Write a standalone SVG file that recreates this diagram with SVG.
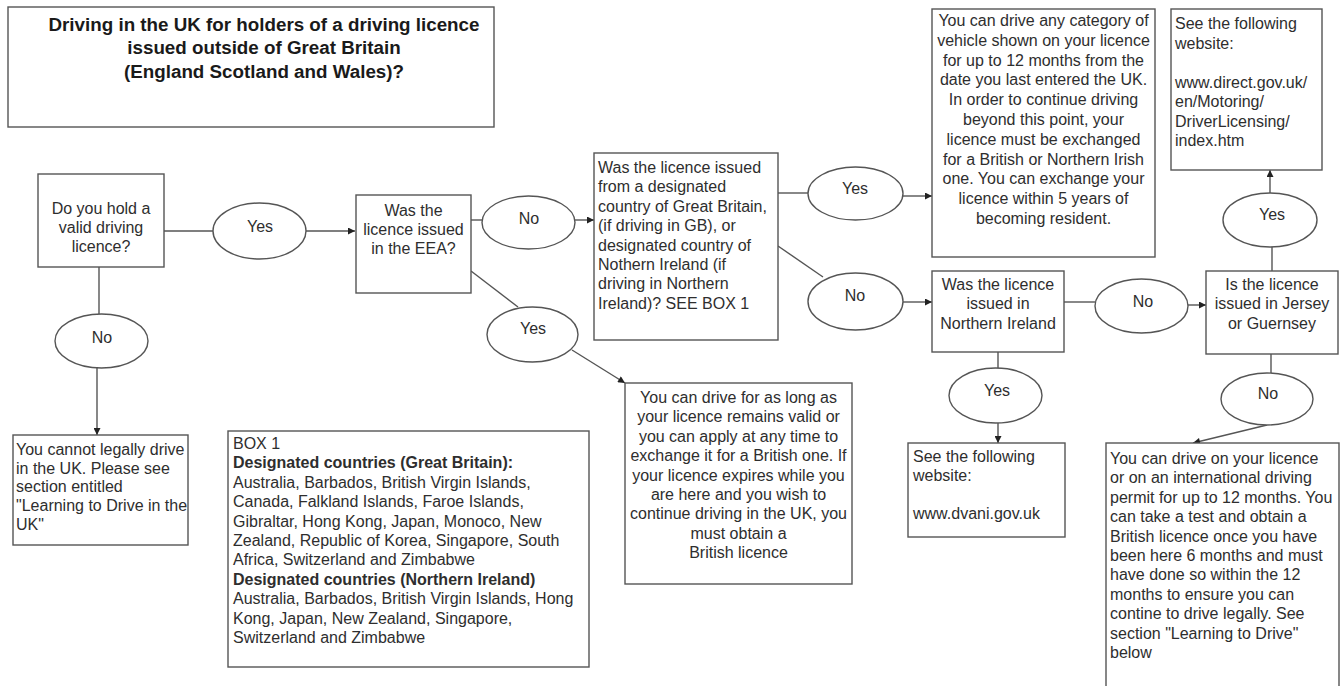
<svg xmlns="http://www.w3.org/2000/svg" width="1343" height="686" viewBox="0 0 1343 686">
<style>
.box{fill:#fff;stroke:#555;stroke-width:1.4}
.ell{fill:#fff;stroke:#555;stroke-width:1.4}
.t{font-family:"Liberation Sans",Arial,sans-serif;font-size:16px;fill:#2e2e2e}
.c{text-anchor:middle}
.b{font-weight:bold}
.title{font-family:"Liberation Sans",Arial,sans-serif;font-size:18.8px;font-weight:bold;fill:#1a1a1a;text-anchor:middle}
.ln{fill:none;stroke:#555;stroke-width:1.4}
</style>
<defs>
<marker id="arr" viewBox="0 0 10 10" refX="10" refY="5" markerWidth="8" markerHeight="7" orient="auto" markerUnits="userSpaceOnUse"><path d="M0,0 L10,5 L0,10 z" fill="#222"/></marker>
</defs>
<rect width="1343" height="686" fill="#fff"/>

<g id="connectors">
<path class="ln" d="M164,231 H213"/>
<path class="ln" d="M306,231 H355" marker-end="url(#arr)"/>
<path class="ln" d="M99,267 V314"/>
<path class="ln" d="M97,368 V435" marker-end="url(#arr)"/>
<path class="ln" d="M471,220 H482"/>
<path class="ln" d="M575,220 H594" marker-end="url(#arr)"/>
<path class="ln" d="M471,271 L518,307"/>
<path class="ln" d="M572,350 L625,383" marker-end="url(#arr)"/>
<path class="ln" d="M778,193 H808"/>
<path class="ln" d="M903,196 H932" marker-end="url(#arr)"/>
<path class="ln" d="M778,246 L823,277"/>
<path class="ln" d="M903,302 H932" marker-end="url(#arr)"/>
<path class="ln" d="M1064,302 H1095"/>
<path class="ln" d="M1188,305 H1206" marker-end="url(#arr)"/>
<path class="ln" d="M1272,271 V247"/>
<path class="ln" d="M1270,193 V170" marker-end="url(#arr)"/>
<path class="ln" d="M998,352 V368"/>
<path class="ln" d="M998,423 V443" marker-end="url(#arr)"/>
<path class="ln" d="M1271,354 V373"/>
<path class="ln" d="M1267,425 L1193,443" marker-end="url(#arr)"/>
</g>

<g id="title">
<rect class="box" x="8" y="7" width="486" height="120"/>
<text class="title" x="264" y="31">Driving in the UK for holders of a driving licence</text>
<text class="title" x="264" y="54">issued outside of Great Britain</text>
<text class="title" x="264" y="78">(England Scotland and Wales)?</text>
</g>

<g id="q-valid">
<rect class="box" x="38" y="174" width="126" height="93"/>
<text class="t c" x="101" y="214">Do you hold a</text>
<text class="t c" x="101" y="233">valid driving</text>
<text class="t c" x="101" y="252">licence?</text>
</g>

<g id="yes-1">
<ellipse class="ell" cx="259.5" cy="231" rx="46.5" ry="28"/>
<text class="t c" x="260" y="232">Yes</text>
</g>

<g id="no-1">
<ellipse class="ell" cx="101.5" cy="341" rx="46.5" ry="27"/>
<text class="t c" x="102" y="343">No</text>
</g>

<g id="cannot-drive">
<rect class="box" x="13" y="435" width="175" height="110"/>
<text class="t" x="16" y="455">You cannot legally drive</text>
<text class="t" x="16" y="474">in the UK. Please see</text>
<text class="t" x="16" y="492">section entitled</text>
<text class="t" x="16" y="511">"Learning to Drive in the</text>
<text class="t" x="16" y="530">UK"</text>
</g>

<g id="q-eea">
<rect class="box" x="356" y="195" width="115" height="98"/>
<text class="t c" x="413.5" y="216">Was the</text>
<text class="t c" x="413.5" y="235">licence issued</text>
<text class="t c" x="413.5" y="254">in the EEA?</text>
</g>

<g id="no-2">
<ellipse class="ell" cx="528.5" cy="222.5" rx="46.5" ry="26.5"/>
<text class="t c" x="529" y="224">No</text>
</g>

<g id="yes-2">
<ellipse class="ell" cx="532.5" cy="334.5" rx="45.5" ry="27.5"/>
<text class="t c" x="533" y="334">Yes</text>
</g>

<g id="eea-result">
<rect class="box" x="625" y="383" width="227" height="201"/>
<text class="t c" x="738.5" y="403">You can drive for as long as</text>
<text class="t c" x="738.5" y="422.4">your licence remains valid or</text>
<text class="t c" x="738.5" y="441.8">you can apply at any time to</text>
<text class="t c" x="738.5" y="461.2">exchange it for a British one. If</text>
<text class="t c" x="738.5" y="480.6">your licence expires while you</text>
<text class="t c" x="738.5" y="500">are here and you wish to</text>
<text class="t c" x="738.5" y="519.4">continue driving in the UK, you</text>
<text class="t c" x="738.5" y="538.8">must obtain a</text>
<text class="t c" x="738.5" y="558.2">British licence</text>
</g>

<g id="box-1">
<rect class="box" x="228" y="431" width="361" height="236"/>
<text class="t" x="233" y="449">BOX 1</text>
<text class="t b" x="233" y="468.4">Designated countries (Great Britain):</text>
<text class="t" x="233" y="487.8">Australia, Barbados, British Virgin Islands,</text>
<text class="t" x="233" y="507.2">Canada, Falkland Islands, Faroe Islands,</text>
<text class="t" x="233" y="526.6">Gibraltar, Hong Kong, Japan, Monoco, New</text>
<text class="t" x="233" y="546">Zealand, Republic of Korea, Singapore, South</text>
<text class="t" x="233" y="565.4">Africa, Switzerland and Zimbabwe</text>
<text class="t b" x="233" y="584.8">Designated countries (Northern Ireland)</text>
<text class="t" x="233" y="604.2">Australia, Barbados, British Virgin Islands, Hong</text>
<text class="t" x="233" y="623.6">Kong, Japan, New Zealand, Singapore,</text>
<text class="t" x="233" y="643">Switzerland and Zimbabwe</text>
</g>

<g id="q-designated">
<rect class="box" x="594" y="153" width="184" height="187"/>
<text class="t" x="598" y="173">Was the licence issued</text>
<text class="t" x="598" y="192.4">from a designated</text>
<text class="t" x="598" y="211.8">country of Great Britain,</text>
<text class="t" x="598" y="231.2">(if driving in GB), or</text>
<text class="t" x="598" y="250.6">designated country of</text>
<text class="t" x="598" y="270">Nothern Ireland (if</text>
<text class="t" x="598" y="289.4">driving in Northern</text>
<text class="t" x="598" y="308.8">Ireland)? SEE BOX 1</text>
</g>

<g id="yes-3">
<ellipse class="ell" cx="855.5" cy="193.5" rx="47.5" ry="26.5"/>
<text class="t c" x="855" y="194">Yes</text>
</g>

<g id="no-3">
<ellipse class="ell" cx="855.5" cy="301.5" rx="47.5" ry="28.5"/>
<text class="t c" x="855" y="301">No</text>
</g>

<g id="designated-result">
<rect class="box" x="932" y="9" width="223" height="248"/>
<text class="t c" x="1043.5" y="26">You can drive any category of</text>
<text class="t c" x="1043.5" y="45.8">vehicle shown on your licence</text>
<text class="t c" x="1043.5" y="65.6">for up to 12 months from the</text>
<text class="t c" x="1043.5" y="85.4">date you last entered the UK.</text>
<text class="t c" x="1043.5" y="105.2">In order to continue driving</text>
<text class="t c" x="1043.5" y="125">beyond this point, your</text>
<text class="t c" x="1043.5" y="144.8">licence must be exchanged</text>
<text class="t c" x="1043.5" y="164.6">for a British or Northern Irish</text>
<text class="t c" x="1043.5" y="184.4">one. You can exchange your</text>
<text class="t c" x="1043.5" y="204.2">licence within 5 years of</text>
<text class="t c" x="1043.5" y="224">becoming resident.</text>
</g>

<g id="q-ni">
<rect class="box" x="932" y="271" width="132" height="81"/>
<text class="t c" x="998" y="290">Was the licence</text>
<text class="t c" x="998" y="309">issued in</text>
<text class="t c" x="998" y="329">Northern Ireland</text>
</g>

<g id="yes-4">
<ellipse class="ell" cx="995.5" cy="395.5" rx="46.5" ry="27.5"/>
<text class="t c" x="997" y="396">Yes</text>
</g>

<g id="ni-website">
<rect class="box" x="908" y="443" width="157" height="94"/>
<text class="t" x="913" y="462">See the following</text>
<text class="t" x="913" y="481">website:</text>
<text class="t" x="913" y="519">www.dvani.gov.uk</text>
</g>

<g id="no-4">
<ellipse class="ell" cx="1141.5" cy="306" rx="46.5" ry="27"/>
<text class="t c" x="1143" y="307">No</text>
</g>

<g id="q-jersey">
<rect class="box" x="1206" y="271" width="132" height="83"/>
<text class="t c" x="1272" y="290">Is the licence</text>
<text class="t c" x="1272" y="309">issued in Jersey</text>
<text class="t c" x="1272" y="329">or Guernsey</text>
</g>

<g id="yes-5">
<ellipse class="ell" cx="1270" cy="220" rx="47" ry="27"/>
<text class="t c" x="1272" y="220">Yes</text>
</g>

<g id="direct-website">
<rect class="box" x="1171" y="9" width="151" height="161"/>
<text class="t" x="1175" y="29">See the following</text>
<text class="t" x="1175" y="49">website:</text>
<text class="t" x="1175" y="88">www.direct.gov.uk/</text>
<text class="t" x="1175" y="107">en/Motoring/</text>
<text class="t" x="1175" y="127">DriverLicensing/</text>
<text class="t" x="1175" y="146">index.htm</text>
</g>

<g id="no-5">
<ellipse class="ell" cx="1267" cy="399" rx="46" ry="26"/>
<text class="t c" x="1268" y="399">No</text>
</g>

<g id="other-result">
<rect class="box" x="1106" y="443" width="233" height="260"/>
<text class="t" x="1110" y="464">You can drive on your licence</text>
<text class="t" x="1110" y="483.4">or on an international driving</text>
<text class="t" x="1110" y="502.8">permit for up to 12 months. You</text>
<text class="t" x="1110" y="522.2">can take a test and obtain a</text>
<text class="t" x="1110" y="541.6">British licence once you have</text>
<text class="t" x="1110" y="561">been here 6 months and must</text>
<text class="t" x="1110" y="580.4">have done so within the 12</text>
<text class="t" x="1110" y="599.8">months to ensure you can</text>
<text class="t" x="1110" y="619.2">contine to drive legally. See</text>
<text class="t" x="1110" y="638.6">section "Learning to Drive"</text>
<text class="t" x="1110" y="658">below</text>
</g>
</svg>
